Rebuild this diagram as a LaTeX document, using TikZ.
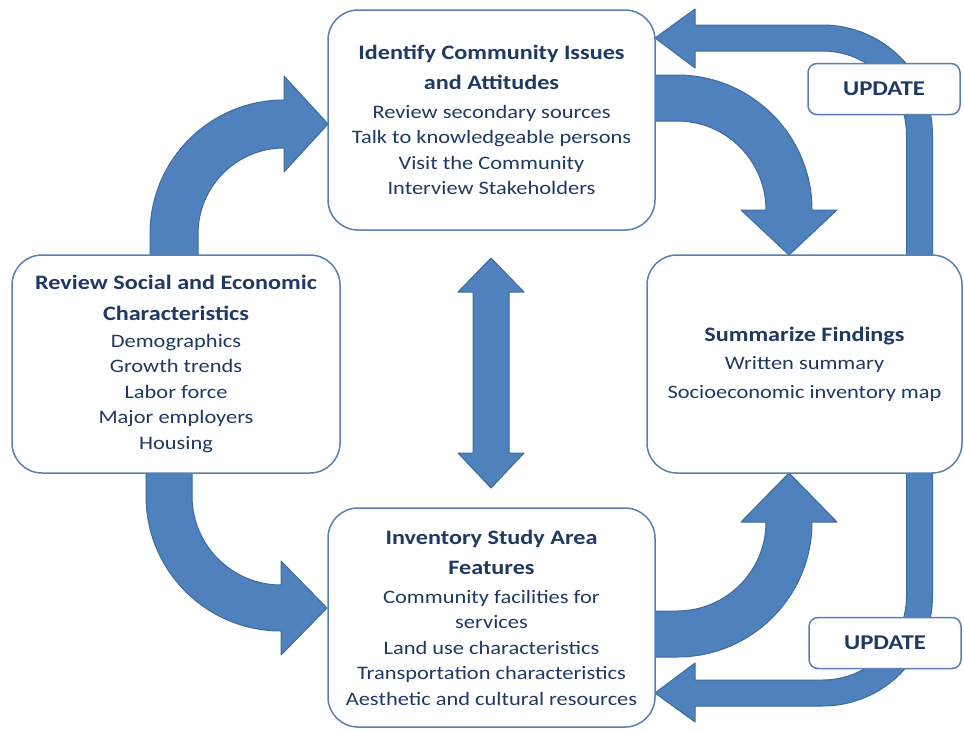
\documentclass[tikz,border=0pt]{standalone}
\usepackage{fontspec}
\setmainfont{Carlito}[FakeStretch=1.18]
\usepackage{xcolor}
\definecolor{arrowblue}{HTML}{4F81BD}
\definecolor{arrowedge}{HTML}{3D6A9F}
\definecolor{boxedge}{HTML}{5A80B0}
\definecolor{textnavy}{HTML}{1F3864}
\newcommand\stagehead{\fontsize{20.5}{25.5}\selectfont\bfseries}

\begin{document}
\begin{tikzpicture}[x=1pt, y=-1pt,
  stage/.style={draw=boxedge, line width=1.5pt, fill=white, rounded corners=30pt,
    align=center, text=textnavy, font=\fontsize{19}{25.5}\selectfont, inner sep=0pt},
  upd/.style={draw=boxedge, line width=1.5pt, fill=white, rounded corners=9pt,
    text=textnavy, font=\fontsize{21}{24}\selectfont\bfseries, inner sep=0pt,
    minimum width=152pt, minimum height=51pt},
  blockarrow/.style={fill=arrowblue, draw=arrowedge, line width=1pt, line join=round}]
\useasboundingbox (0,0) rectangle (964,729);

% curved arrows between the four stages
\filldraw[blockarrow] (150,260) -- (150,234) arc[start angle=180, end angle=270, radius=134]
  -- (284,76) -- (328,124) -- (284,172) -- (284,148)
  arc[start angle=270, end angle=180, radius=86] -- (198,260) -- cycle;
\filldraw[blockarrow] (146,468) -- (146,496) arc[start angle=180, end angle=90, radius=135]
  -- (281,655) -- (327,608) -- (281,561) -- (281,585)
  arc[start angle=90, end angle=180, radius=89] -- (192,468) -- cycle;
\filldraw[blockarrow] (650,75) -- (677,75) arc[start angle=270, end angle=360, radius=135]
  -- (837,210) -- (789,255) -- (741,210) -- (766,210)
  arc[start angle=0, end angle=-90, radius=89] -- (650,121) -- cycle;
\filldraw[blockarrow] (650,657) -- (677,657) arc[start angle=90, end angle=0, radius=135]
  -- (837,522) -- (789,473) -- (741,522) -- (766,522)
  arc[start angle=0, end angle=90, radius=89] -- (650,611) -- cycle;
% two way arrow
\filldraw[blockarrow] (491,258) -- (524,292) -- (509,292) -- (509,453) -- (524,453)
  -- (491,488) -- (458,453) -- (473,453) -- (473,292) -- (458,292) -- cycle;
% update loops
\filldraw[blockarrow] (906.5,260) -- (906.5,135) arc[start angle=0, end angle=-90, radius=84]
  -- (695,51) -- (695,68) -- (655,38) -- (695,9) -- (695,25) -- (822.5,25)
  arc[start angle=-90, end angle=0, radius=110] -- (932.5,260) -- cycle;
\filldraw[blockarrow] (906.5,468) -- (906.5,596) arc[start angle=0, end angle=90, radius=84]
  -- (695,680) -- (695,663) -- (655,693) -- (695,722) -- (695,706) -- (822.5,706)
  arc[start angle=90, end angle=0, radius=110] -- (932.5,468) -- cycle;

\node[stage, minimum width=327pt, minimum height=220pt] (issues) at (491.5,120)
  {{\stagehead Identify Community Issues}\\[4.5pt]{\stagehead and Attitudes}\\[3.5pt]
   Review secondary sources\\Talk to knowledgeable persons\\Visit the Community\\
   Interview Stakeholders};
\node[stage, minimum width=328pt, minimum height=218pt] (social) at (176,364)
  {{\stagehead Review Social and Economic}\\[5pt]{\stagehead Characteristics}\\[1.5pt]
   Demographics\\Growth trends\\Labor force\\Major employers\\Housing};
\node[stage, minimum width=315pt, minimum height=218pt] (summary) at (804.5,364)
  {{\stagehead Summarize Findings}\\[2.5pt]Written summary\\[3.5pt]
   Socioeconomic inventory map};
\node[stage, minimum width=327pt, minimum height=219pt] (inventory) at (491.5,617.5)
  {{\stagehead Inventory Study Area}\\[4.5pt]{\stagehead Features}\\[3.5pt]
   Community facilities for\\services\\Land use characteristics\\
   Transportation characteristics\\Aesthetic and cultural resources};
\node[upd] (upd1) at (884,89) {UPDATE};
\node[upd] (upd2) at (885,643) {UPDATE};
\end{tikzpicture}
\end{document}
